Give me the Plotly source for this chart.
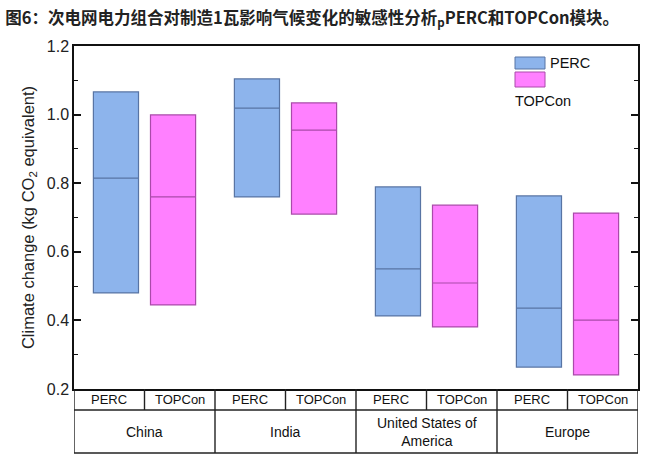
import plotly.graph_objects as go

# ---- data ----
regions = ["China", "India", "United States of<br>America", "Europe"]
modules = ["PERC", "TOPCon"]
perc_q1 = [0.480, 0.760, 0.413, 0.264]
perc_median = [0.815, 1.019, 0.550, 0.436]
perc_q3 = [1.066, 1.104, 0.789, 0.763]
topcon_q1 = [0.445, 0.710, 0.381, 0.241]
topcon_median = [0.760, 0.955, 0.509, 0.401]
topcon_q3 = [0.999, 1.034, 0.736, 0.713]
y_ticks = [0.2, 0.4, 0.6, 0.8, 1.0, 1.2]

# ---- layout helpers ----
group_centers = [2 * i + 1 for i in range(len(regions))]
offset = 0.405
perc_x = [c - offset for c in group_centers]
top_x = [c + offset for c in group_centers]

PERC_FILL = "rgb(141,180,236)"
PERC_LINE = "rgb(88,116,164)"
TOP_FILL = "rgb(255,128,255)"
TOP_LINE = "rgb(170,74,170)"
AX = "#111111"
FONT = "Liberation Sans, Arial, sans-serif"

fig = go.Figure()
fig.add_trace(go.Box(
    x=perc_x, q1=perc_q1, median=perc_median, q3=perc_q3,
    lowerfence=perc_q1, upperfence=perc_q3,
    width=0.64, whiskerwidth=0, fillcolor=PERC_FILL,
    line=dict(color=PERC_LINE, width=1.2), name="PERC", showlegend=False,
))
fig.add_trace(go.Box(
    x=top_x, q1=topcon_q1, median=topcon_median, q3=topcon_q3,
    lowerfence=topcon_q1, upperfence=topcon_q3,
    width=0.64, whiskerwidth=0, fillcolor=TOP_FILL,
    line=dict(color=TOP_LINE, width=1.2), name="TOPCon", showlegend=False,
))

n = len(regions) * 2
r1 = -21 / 343   # bottom of first table row (paper)
r2 = -64 / 343   # bottom of second table row (paper)
shapes = []
lw = dict(color="#222222", width=1.4)
for xv in [0, n]:
    shapes.append(dict(type="line", xref="x", yref="paper", x0=xv, x1=xv, y0=0, y1=r2, line=lw))
for yv in [r1, r2]:
    shapes.append(dict(type="line", xref="x", yref="paper", x0=0, x1=n, y0=yv, y1=yv, line=lw))
for i in range(1, n):
    shapes.append(dict(type="line", xref="x", yref="paper", x0=i, x1=i, y0=0,
                       y1=(r2 if i % 2 == 0 else r1), line=lw))


def py(p):
    return (389 - p) / 343


def px(p):
    return (p - 74) / 564


shapes.append(dict(type="rect", xref="paper", yref="paper", x0=px(515), x1=px(545),
                   y0=py(69), y1=py(57), fillcolor=PERC_FILL, line=dict(color=PERC_LINE, width=1)))
shapes.append(dict(type="rect", xref="paper", yref="paper", x0=px(515), x1=px(545),
                   y0=py(87), y1=py(72), fillcolor=TOP_FILL, line=dict(color=TOP_LINE, width=1)))

annotations = []
for i in range(n):
    annotations.append(dict(x=i + 0.5, y=r1 / 2, xref="x", yref="paper", text=modules[i % 2],
                            showarrow=False, font=dict(family=FONT, size=13, color="#111"),
                            xanchor="center", yanchor="middle"))
for i, reg in enumerate(regions):
    annotations.append(dict(x=group_centers[i], y=(r1 + r2) / 2, xref="x", yref="paper", text=reg,
                            showarrow=False, font=dict(family=FONT, size=14, color="#111"),
                            xanchor="center", yanchor="middle"))
annotations.append(dict(x=px(548), y=py(63), xref="paper", yref="paper", text="PERC",
                        showarrow=False, font=dict(family=FONT, size=14.5, color="#111"),
                        xanchor="left", yanchor="middle"))
annotations.append(dict(x=px(513), y=py(101), xref="paper", yref="paper", text="TOPCon",
                        showarrow=False, font=dict(family=FONT, size=14.5, color="#111"),
                        xanchor="left", yanchor="middle"))

fig.update_layout(
    width=652, height=460,
    margin=dict(l=74, r=14, t=46, b=71),
    paper_bgcolor="white", plot_bgcolor="white",
    boxmode="overlay",
    shapes=shapes, annotations=annotations,
    title=dict(text="<b>图6：次电网电力组合对制造1瓦影响气候变化的敏感性分析<sub>p</sub>PERC和TOPCon模块。</b>",
               x=0.008, xanchor="left", xref="container",
               y=1 - 18 / 460, yanchor="middle", yref="container",
               font=dict(family="Noto Sans CJK SC", size=16.5, color="#222")),
    xaxis=dict(range=[0, n], showticklabels=False, ticks="", showgrid=False, zeroline=False,
               showline=True, linecolor=AX, linewidth=1.5, mirror=True),
    yaxis=dict(range=[0.2, 1.2], tickvals=y_ticks, tickformat=".1f", showgrid=False, zeroline=False,
               showline=True, linecolor=AX, linewidth=1.5, mirror="ticks",
               ticks="inside", ticklen=7, tickwidth=1.5, tickcolor=AX,
               minor=dict(dtick=0.1, ticks="inside", ticklen=4, tickwidth=1.2, tickcolor=AX),
               tickfont=dict(family=FONT, size=16, color="#222"),
               title=dict(text="Climate change (kg CO<sub>2</sub> equivalent)",
                          font=dict(family=FONT, size=16.5, color="#222"), standoff=8)),
)

fig.write_html("out.html")
